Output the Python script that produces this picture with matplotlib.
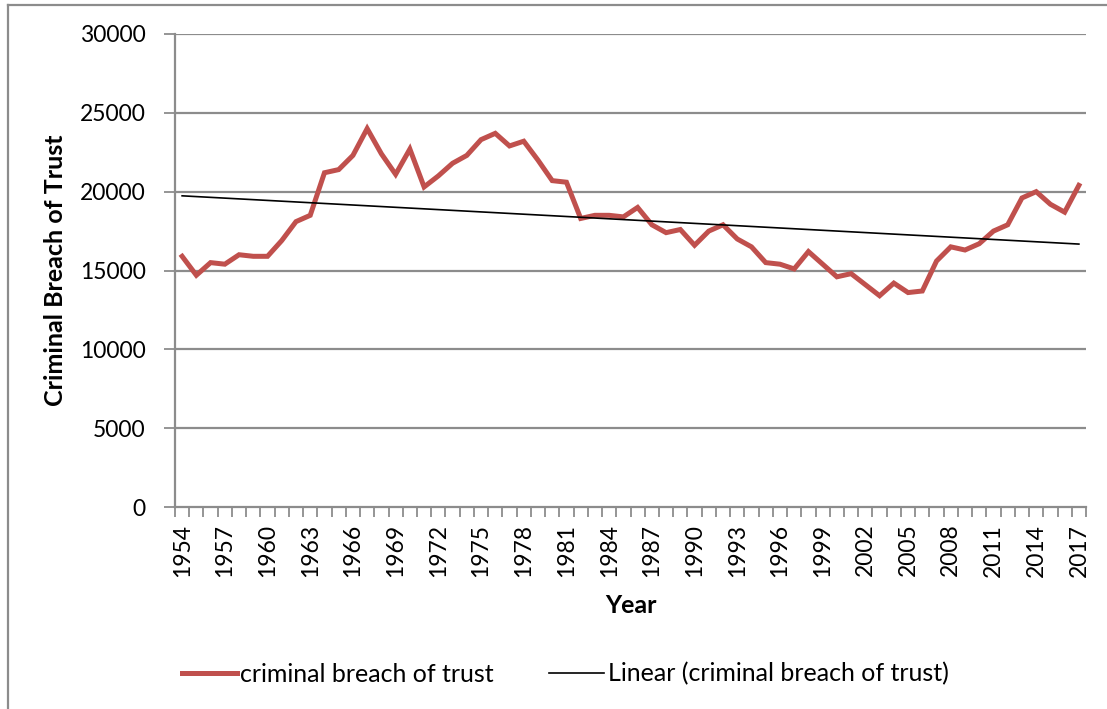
import numpy as np
import matplotlib.pyplot as plt
from matplotlib.lines import Line2D

plt.rcParams['font.family'] = ['Lato', 'DejaVu Sans']

# data
years = list(range(1954, 2018))
breach = [15900, 14700, 15500, 15400, 16000, 15900, 15900, 16900, 18100, 18500,
          21200, 21400, 22300, 24000, 22400, 21100, 22700, 20300, 21000, 21800,
          22300, 23300, 23700, 22900, 23200, 22000, 20700, 20600, 18300, 18500,
          18500, 18400, 19000, 17900, 17400, 17600, 16600, 17500, 17900, 17000,
          16500, 15500, 15400, 15100, 16200, 15400, 14600, 14800, 14100, 13400,
          14200, 13600, 13700, 15600, 16500, 16300, 16700, 17500, 17900, 19600,
          20000, 19200, 18700, 20400]
y_ticks = [0, 5000, 10000, 15000, 20000, 25000, 30000]

red = '#C0504D'
grid_col = '#8C8C8C'
fs = 18
tick_fs = 16.5

x = np.arange(len(years))
slope, icpt = np.polyfit(x, breach, 1)
trend = slope * x + icpt

fig = plt.figure(figsize=(11.07, 7.09), dpi=100)
ax = fig.add_axes([175/1107, 1-507/709, 911/1107, 473/709])

for t in y_ticks[1:]:
    ax.axhline(t, color=grid_col, lw=1.6, zorder=0)

ax.plot(x, breach, color=red, lw=3.6, solid_joinstyle='miter', zorder=3)
ax.plot(x, trend, color='black', lw=1.2, zorder=4)

ax.set_xlim(-0.5, len(years) - 0.5)
ax.set_ylim(0, 30000)
ax.set_yticks(y_ticks)
ax.set_yticklabels([str(t) for t in y_ticks], fontsize=tick_fs)

lab_pos = x[::3]
ax.set_xticks(lab_pos)
ax.set_xticklabels([str(years[i]) for i in lab_pos], rotation=90, fontsize=tick_fs)
ax.tick_params(axis='x', which='major', length=0, pad=12)
ax.set_xticks(np.arange(-0.5, len(years)), minor=True)
ax.tick_params(axis='x', which='minor', length=7, width=1.3, color=grid_col)
ax.tick_params(axis='y', length=8, width=1.3, color=grid_col, pad=13)

for s in ['top', 'right']:
    ax.spines[s].set_visible(False)
for s in ['left', 'bottom']:
    ax.spines[s].set_color(grid_col)
    ax.spines[s].set_linewidth(1.6)

ax.set_xlabel('Year', fontsize=fs, fontweight='bold', labelpad=12)
ax.set_ylabel('Criminal Breach of Trust', fontsize=fs, fontweight='bold', labelpad=9)

# chart area border (only left and top are visible in the picture)
fig.add_artist(Line2D([8/1107, 8/1107], [0, 1-5/709], color=grid_col, lw=1.6))
fig.add_artist(Line2D([8/1107, 1], [1-5/709, 1-5/709], color=grid_col, lw=1.6))

handles = [Line2D([], [], color=red, lw=3.6),
           Line2D([], [], color='black', lw=1.2)]
fig.legend(handles, ['criminal breach of trust', 'Linear (criminal breach of trust)'],
           loc='center', bbox_to_anchor=(565/1107, 1-674/709), ncol=2, frameon=False,
           fontsize=fs, handlelength=2.2, handletextpad=0.15, columnspacing=2.2)

fig.savefig('out.png', dpi=100)
